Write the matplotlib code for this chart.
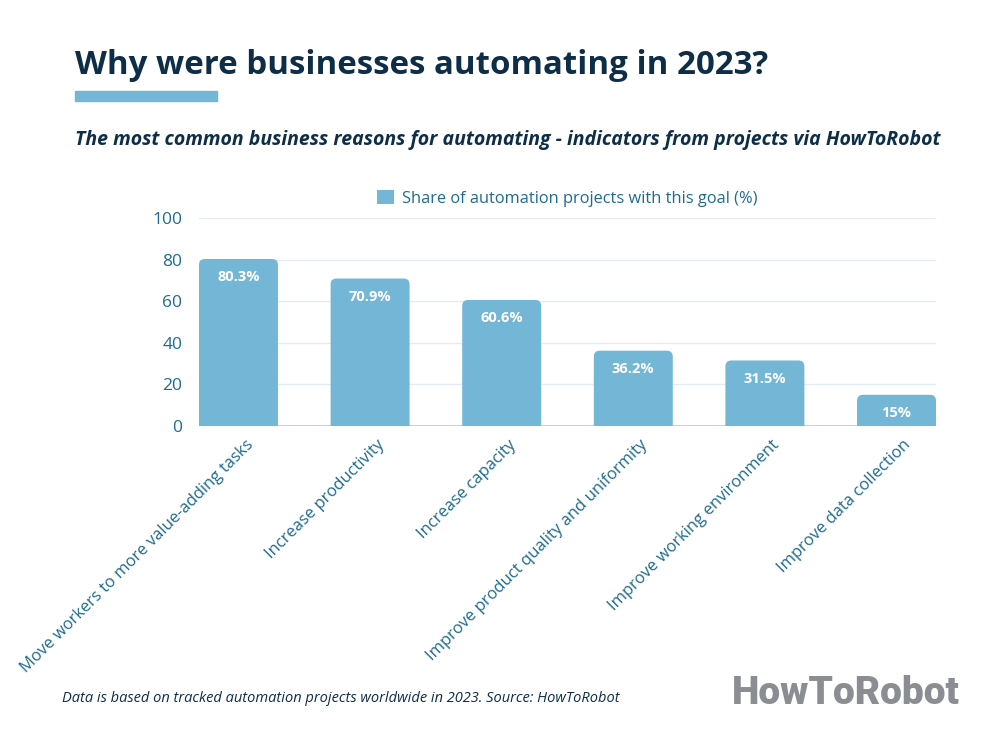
import matplotlib.pyplot as plt
from matplotlib.patches import FancyBboxPatch
import numpy as np

# data
reasons = [
    'Move workers to more value-adding tasks',
    'Increase productivity',
    'Increase capacity',
    'Improve product quality and uniformity',
    'Improve working environment',
    'Improve data collection',
]
share = [80.3, 70.9, 60.6, 36.2, 31.5, 15]
value_labels = ['80.3%', '70.9%', '60.6%', '36.2%', '31.5%', '15%']
yticks = [0, 20, 40, 60, 80, 100]

bar_color = '#73B6D6'
navy = '#0E2E48'
tick_color = '#1E6B8F'

plt.rcParams['font.family'] = ['Open Sans', 'DejaVu Sans']

fig = plt.figure(figsize=(10.02, 7.52), dpi=100)
fig.patch.set_facecolor('white')

# title and accent bar
fig.text(75 / 1002, 1 - 66 / 752, 'Why were businesses automating in 2023?',
         fontsize=23.8, fontweight='bold', color=navy, va='center', ha='left')
fig.patches.append(plt.Rectangle((75 / 1002, 1 - 101 / 752), 142 / 1002, 10 / 752,
                                 transform=fig.transFigure, color=bar_color))
fig.text(75 / 1002, 1 - 140 / 752,
         'The most common business reasons for automating - indicators from projects via HowToRobot',
         fontsize=14, fontweight='bold', style='italic', color=navy, va='center', ha='left')

ax = fig.add_axes([199 / 1002, 1 - 426 / 752, 737 / 1002, 208 / 752])
x = np.arange(len(reasons))
width = 0.6

# invisible bars for the legend handle, rounded patches for the marks
ax.bar(x, share, width=width, color=bar_color, alpha=0,
       label='Share of automation projects with this goal (%)')
aspect = (737 / 5.6) / (208 / 100)
for xi, v in zip(x, share):
    p = FancyBboxPatch((xi - width / 2, -5), width, v + 5,
                       boxstyle='round,pad=0,rounding_size=0.045',
                       mutation_aspect=aspect, facecolor=bar_color,
                       edgecolor='none', zorder=3)
    ax.add_patch(p)

for xi, v, lab in zip(x, share, value_labels):
    ax.text(xi, v - 5.5, lab, ha='center', va='top', color='white',
            fontsize=10.5, fontweight='bold', zorder=4)

ax.set_xlim(-0.3, 5.3)
ax.set_ylim(0, 100)
ax.set_yticks(yticks)
ax.grid(axis='y', color='#E2EDF3', linewidth=1, zorder=0)
ax.axhline(0, color='#A9D0E4', linewidth=1.2, zorder=2)
for s in ax.spines.values():
    s.set_visible(False)
ax.tick_params(axis='both', length=0, colors=tick_color, labelsize=12.5)
ax.tick_params(axis='y', pad=12)
ax.set_xticks(x + 0.05)
ax.set_xticklabels(reasons, rotation=45, ha='right', rotation_mode='anchor',
                   color=tick_color, fontsize=12)
ax.tick_params(axis='x', pad=8)

leg = ax.legend(loc='lower center', bbox_to_anchor=(0.5, 1.0), frameon=False,
                fontsize=11.8, handlelength=1.0, handleheight=1.0, handletextpad=0.5,
                borderaxespad=0.3)
for h in leg.legend_handles:
    h.set_alpha(1)
for t in leg.get_texts():
    t.set_color(tick_color)

# footer
fig.text(62 / 1002, 1 - 698 / 752,
         'Data is based on tracked automation projects worldwide in 2023. Source: HowToRobot',
         fontsize=10.5, style='italic', color=navy, va='center', ha='left')
fig.text(960 / 1002, 1 - 694 / 752, 'HowToRobot', fontsize=28, fontweight=900,
         family=['Roboto', 'DejaVu Sans'], color='#8A8D92', va='center', ha='right')

fig.savefig('out.png', dpi=100)
